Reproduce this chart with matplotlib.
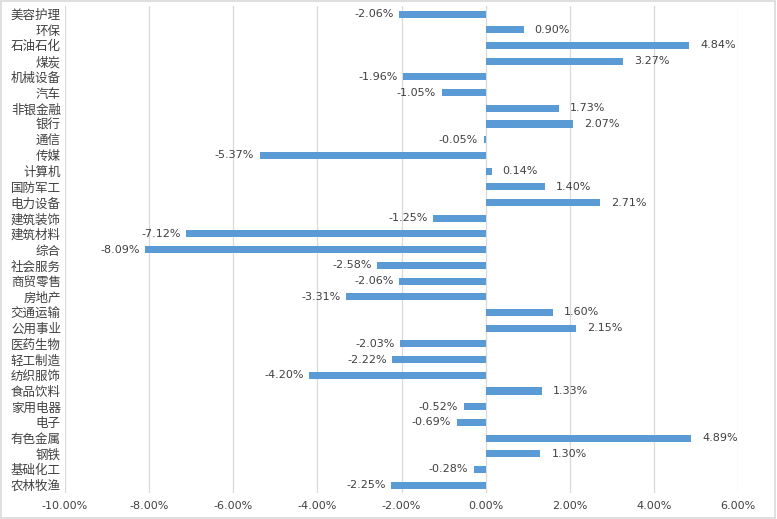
import matplotlib.pyplot as plt
from matplotlib.patches import Rectangle
from matplotlib.ticker import FuncFormatter, MultipleLocator

plt.rcParams['font.family'] = ['Noto Sans CJK SC', 'DejaVu Sans']

sectors = ['美容护理', '环保', '石油石化', '煤炭', '机械设备', '汽车', '非银金融', '银行',
           '通信', '传媒', '计算机', '国防军工', '电力设备', '建筑装饰', '建筑材料', '综合',
           '社会服务', '商贸零售', '房地产', '交通运输', '公用事业', '医药生物', '轻工制造',
           '纺织服饰', '食品饮料', '家用电器', '电子', '有色金属', '钢铁', '基础化工', '农林牧渔']
changes = [-2.06, 0.90, 4.84, 3.27, -1.96, -1.05, 1.73, 2.07,
           -0.05, -5.37, 0.14, 1.40, 2.71, -1.25, -7.12, -8.09,
           -2.58, -2.06, -3.31, 1.60, 2.15, -2.03, -2.22,
           -4.20, 1.33, -0.52, -0.69, 4.89, 1.30, -0.28, -2.25]

fig = plt.figure(figsize=(7.77, 5.19), dpi=100)
ax = fig.add_axes([0.0837, 0.05, 0.8663, 0.938])

ypos = list(range(len(sectors)))
ax.barh(ypos, changes, height=0.45, color='#5B9BD5', zorder=3)
ax.set_ylim(len(sectors) - 0.5, -0.5)
ax.set_xlim(-10, 6)
ax.xaxis.set_major_locator(MultipleLocator(2))
ax.xaxis.set_major_formatter(FuncFormatter(lambda v, p: '%.2f%%' % v))
ax.grid(axis='x', color='#D9D9D9', linewidth=0.9, zorder=0)

for y, v in zip(ypos, changes):
    if v >= 0:
        ax.annotate('%.2f%%' % v, (v, y), xytext=(8, 0), textcoords='offset points',
                    ha='left', va='center', fontsize=8, color='#404040',
                    family='DejaVu Sans')
    else:
        ax.annotate('%.2f%%' % v, (v, y), xytext=(-4, 0), textcoords='offset points',
                    ha='right', va='center', fontsize=8, color='#404040',
                    family='DejaVu Sans')

ax.set_yticks(ypos)
ax.set_yticklabels(sectors, fontsize=9, color='#404040')
ax.tick_params(axis='both', length=0, pad=3)
ax.tick_params(axis='x', labelsize=8, labelcolor='#404040', pad=6)
for lbl in ax.get_xticklabels():
    lbl.set_family('DejaVu Sans')
for s in ax.spines.values():
    s.set_visible(False)

fig.patches.append(Rectangle((0.001, 0.001), 0.997, 0.997, transform=fig.transFigure,
                             fill=False, edgecolor='#D9D9D9', linewidth=1.2))

fig.savefig('out.png', dpi=100)
